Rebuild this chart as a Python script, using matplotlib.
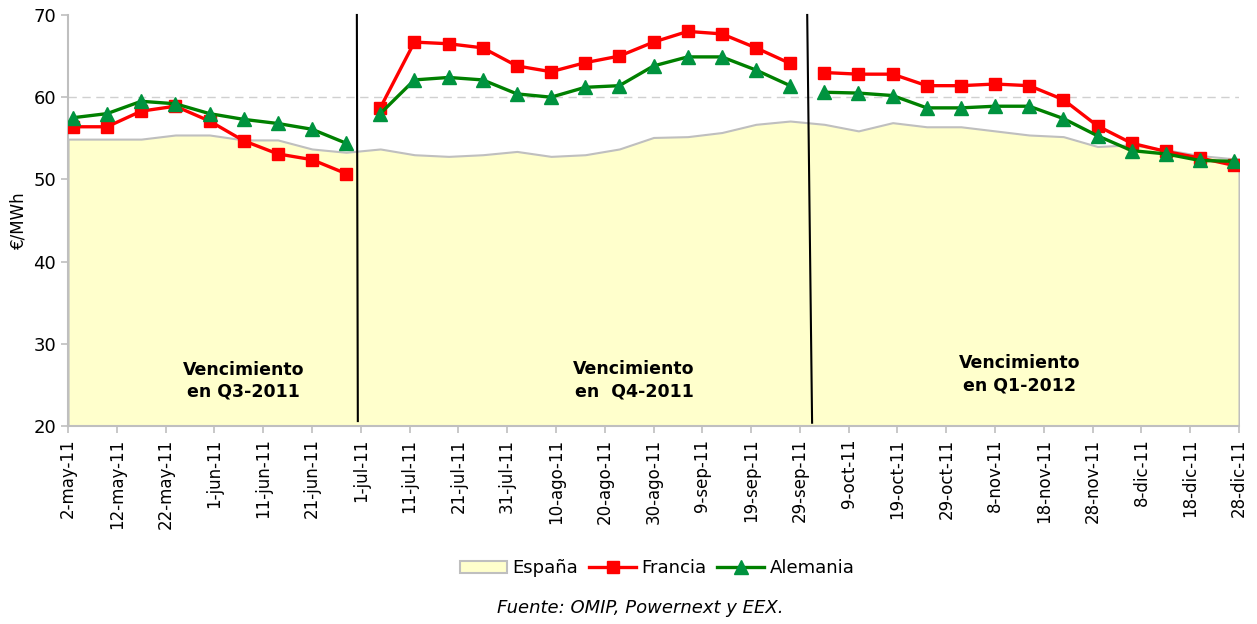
import pandas as pd
import matplotlib
matplotlib.use("Agg")
import matplotlib.pyplot as plt
import matplotlib.dates as mdates
from matplotlib.patches import Patch
from matplotlib.lines import Line2D

# weekly quotes (Tuesdays) for each maturity period
dates_q3 = pd.date_range("2011-05-03", "2011-06-28", freq="7D")
dates_q4 = pd.date_range("2011-07-05", "2011-09-27", freq="7D")
dates_q1 = pd.date_range("2011-10-04", "2011-12-27", freq="7D")

francia_q3 = [56.4, 56.4, 58.3, 58.9, 57.1, 54.7, 53.1, 52.4, 50.7]
francia_q4 = [58.7, 66.7, 66.5, 66.0, 63.8, 63.1, 64.2, 65.0, 66.7, 68.0, 67.7, 66.0, 64.1]
francia_q1 = [63.0, 62.8, 62.8, 61.4, 61.4, 61.6, 61.4, 59.7, 56.5, 54.4, 53.4, 52.6, 51.7]

alemania_q3 = [57.5, 58.0, 59.5, 59.2, 58.0, 57.3, 56.8, 56.1, 54.4]
alemania_q4 = [58.0, 62.1, 62.4, 62.1, 60.4, 60.0, 61.2, 61.4, 63.8, 64.9, 64.9, 63.3, 61.4]
alemania_q1 = [60.6, 60.5, 60.2, 58.7, 58.7, 58.9, 58.9, 57.4, 55.3, 53.5, 53.1, 52.3, 52.2]

# Spain is continuous over the whole period, from axis edge to axis edge
espana_dates = (pd.DatetimeIndex(["2011-05-02"])
                .append(dates_q3).append(dates_q4).append(dates_q1)
                .append(pd.DatetimeIndex(["2011-12-28"])))
espana = [54.9,
          54.9, 54.9, 54.9, 55.4, 55.4, 54.8, 54.8, 53.7, 53.3,
          53.7, 53.0, 52.8, 53.0, 53.4, 52.8, 53.0, 53.7, 55.1, 55.2, 55.7, 56.7, 57.1,
          56.7, 55.9, 56.9, 56.4, 56.4, 55.9, 55.4, 55.2, 54.0, 54.2, 53.6, 52.9, 52.5,
          52.5]

meses = ["ene", "feb", "mar", "abr", "may", "jun", "jul", "ago", "sep", "oct", "nov", "dic"]
tick_dates = pd.date_range("2011-05-02", "2011-12-28", freq="10D")
tick_labels = [f"{d.day}-{meses[d.month - 1]}-{d.strftime('%y')}" for d in tick_dates]

periodos = ["Vencimiento\nen Q3-2011", "Vencimiento\nen  Q4-2011", "Vencimiento\nen Q1-2012"]

red = "#FF0000"
green = "#008000"
green_mk = "#00933F"
fill_c = "#FFFFCC"
gray = "#BFBFBF"

fig = plt.figure(figsize=(12.57, 6.24), dpi=100)
ax = fig.add_axes([0.0541, 0.3173, 0.9316, 0.6587])

ax.fill_between(espana_dates, espana, 20, facecolor=fill_c, edgecolor=gray, linewidth=1.5, zorder=2)

for d, f, a in [(dates_q3, francia_q3, alemania_q3),
                (dates_q4, francia_q4, alemania_q4),
                (dates_q1, francia_q1, alemania_q1)]:
    ax.plot(d, f, color=red, lw=2.4, marker="s", ms=8.5, mfc=red, mec=red, zorder=4)
    ax.plot(d, a, color=green, lw=2.4, marker="^", ms=10, mfc=green_mk, mec=green_mk, zorder=5)

# maturity separators
x0 = mdates.date2num(pd.Timestamp("2011-05-02"))
ax.plot([x0 + 59.2, x0 + 59.4], [70, 20.6], color="black", lw=1.5, zorder=6, clip_on=False)
ax.plot([x0 + 151.5, x0 + 152.5], [70, 20.4], color="black", lw=1.5, zorder=6, clip_on=False)

txt_x = [pd.Timestamp("2011-06-07"), pd.Timestamp("2011-08-26"), pd.Timestamp("2011-11-13")]
txt_y = [25.5, 25.6, 26.3]
for x, y, t in zip(txt_x, txt_y, periodos):
    ax.text(x, y, t, ha="center", va="center", fontsize=12.5, fontweight="bold",
            linespacing=1.3, zorder=7)

ax.set_xlim(pd.Timestamp("2011-05-02"), pd.Timestamp("2011-12-28"))
ax.set_ylim(20, 70)
ax.set_yticks([20, 30, 40, 50, 60, 70])
ax.set_xticks(tick_dates)
ax.set_xticklabels(tick_labels, rotation=90, fontsize=12)
ax.tick_params(axis="y", labelsize=13, color=gray, length=5, width=1.2)
ax.tick_params(axis="x", color=gray, length=5, width=1.2, pad=4)
ax.set_ylabel("€/MWh", fontsize=12, labelpad=4)

ax.yaxis.grid(True, color="#D0D0D0", linestyle=(0, (6, 4)), linewidth=1, zorder=0)
ax.set_axisbelow(True)
ax.yaxis.get_gridlines()[-1].set_visible(False)
for s in ["top", "right"]:
    ax.spines[s].set_visible(False)
for s in ["left", "bottom"]:
    ax.spines[s].set_color(gray)
    ax.spines[s].set_linewidth(1.5)

handles = [Patch(facecolor=fill_c, edgecolor=gray, linewidth=1.5),
           Line2D([], [], color=red, lw=2.4, marker="s", ms=8.5, mfc=red, mec=red),
           Line2D([], [], color=green, lw=2.4, marker="^", ms=10, mfc=green_mk, mec=green_mk)]
fig.legend(handles, ["España", "Francia", "Alemania"], loc="center", ncol=3,
           bbox_to_anchor=(0.523, 0.089), frameon=False, fontsize=13,
           handlelength=2.6, handletextpad=0.3, columnspacing=0.6)

fig.text(0.509, 0.026, "Fuente: OMIP, Powernext y EEX.", ha="center", va="center",
         fontsize=13, style="italic")

fig.savefig("out.png", dpi=100)
